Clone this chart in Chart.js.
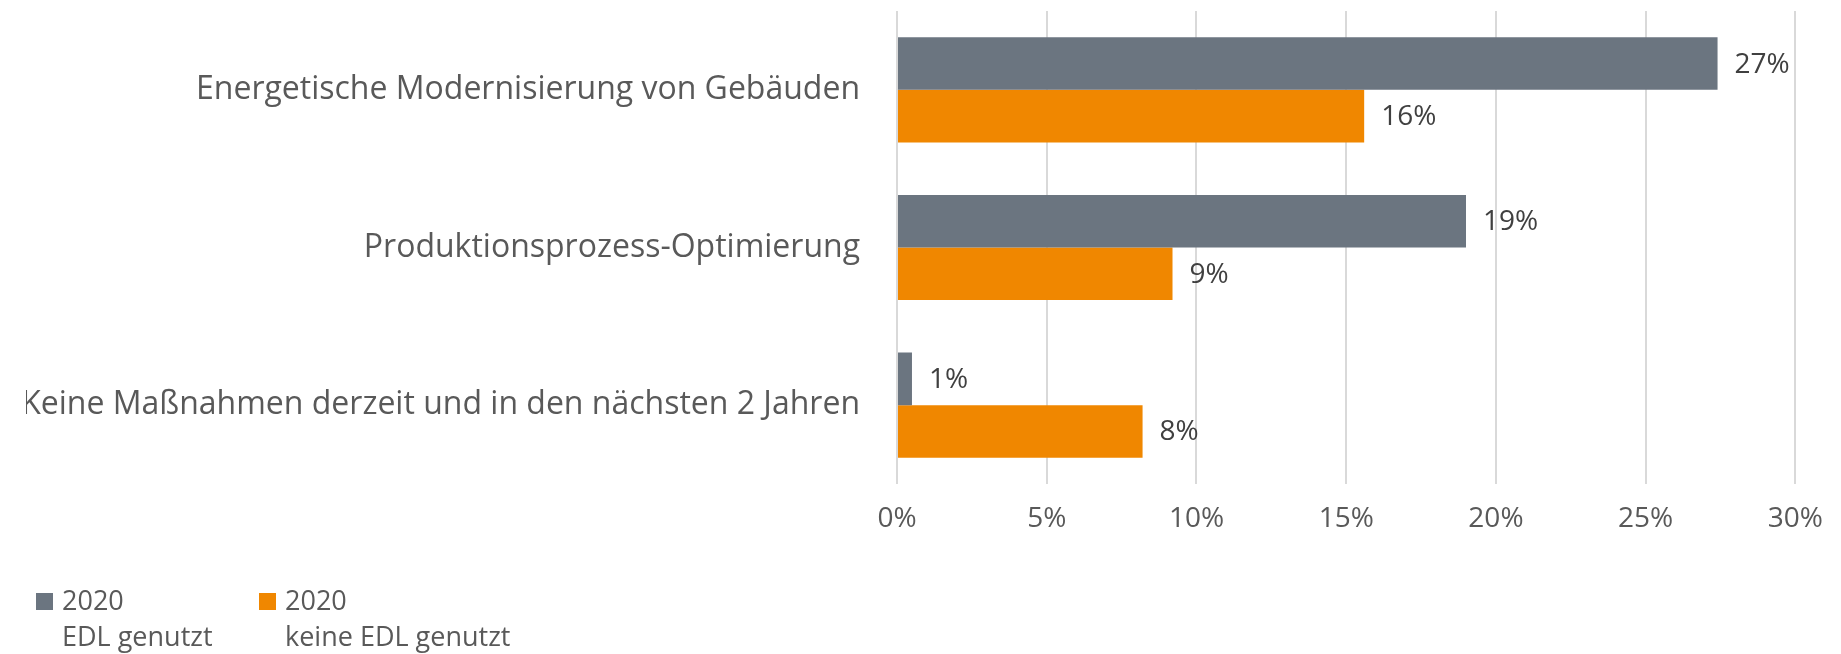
<!DOCTYPE html>
<html>
<head>
<meta charset="utf-8">
<script src="https://cdn.jsdelivr.net/npm/chart.js@4/dist/chart.umd.min.js"></script>
<style>
  html, body { margin: 0; padding: 0; background: #fff; }
  #wrap { width: 1841px; height: 654px; }
</style>
</head>
<body>
<div id="wrap"><canvas id="chart"></canvas></div>
<script>
const kategorien = [
    "Energetische Modernisierung von Gebäuden",
    "Produktionsprozess-Optimierung",
    "Keine Maßnahmen derzeit und in den nächsten 2 Jahren"
];
const edlGenutzt = [27.4, 19.0, 0.5];
const keineEdl = [15.6, 9.2, 8.2];
const serienNamen = [["2020", "EDL genutzt"], ["2020", "keine EDL genutzt"]];
const xTicks = [0, 5, 10, 15, 20, 25, 30];

const grau = "#6b7580";
const orange = "#f08700";
const schrift = "'Open Sans', sans-serif";

// Werte rechts neben die Balken schreiben
const wertLabels = {
    id: "wertLabels",
    afterDatasetsDraw(chart) {
        const ctx = chart.ctx;
        ctx.save();
        ctx.font = "28px " + schrift;
        ctx.fillStyle = "#404040";
        ctx.textAlign = "left";
        ctx.textBaseline = "middle";
        chart.data.datasets.forEach((ds, i) => {
            chart.getDatasetMeta(i).data.forEach((bar, j) => {
                ctx.fillText(Math.round(ds.data[j]) + "%", bar.x + 17, bar.y + 1);
            });
        });
        ctx.restore();
    }
};

// Legende unten links, zweizeilig
const legendeUnten = {
    id: "legendeUnten",
    afterDraw(chart) {
        const ctx = chart.ctx;
        const startX = [36, 259];
        ctx.save();
        ctx.font = "27px " + schrift;
        ctx.textAlign = "left";
        ctx.textBaseline = "middle";
        chart.data.datasets.forEach((ds, i) => {
            const x = startX[i];
            ctx.fillStyle = ds.backgroundColor;
            ctx.fillRect(x, 593, 17, 17);
            ctx.fillStyle = "#595959";
            ds.label.forEach((zeile, k) => {
                ctx.fillText(zeile, x + 26, 602 + k * 36);
            });
        });
        ctx.restore();
    }
};

new Chart(document.getElementById("chart"), {
    type: "bar",
    data: {
        labels: kategorien,
        datasets: [
            { label: serienNamen[0], data: edlGenutzt, backgroundColor: grau },
            { label: serienNamen[1], data: keineEdl, backgroundColor: orange }
        ]
    },
    options: {
        indexAxis: "y",
        responsive: true,
        maintainAspectRatio: false,
        animation: false,
        layout: { padding: { left: 26, right: 44, top: 11, bottom: 110 } },
        datasets: {
            bar: { categoryPercentage: 0.667, barPercentage: 1 }
        },
        scales: {
            x: {
                min: 0,
                max: 30,
                afterBuildTicks: s => { s.ticks = xTicks.map(v => ({ value: v })); },
                afterFit: s => { s.height = 60; },
                grid: { color: "#d9d9d9", lineWidth: 2, drawTicks: false },
                border: { display: false },
                ticks: {
                    padding: 18,
                    color: "#595959",
                    font: { family: schrift, size: 28 },
                    callback: v => v + "%"
                }
            },
            y: {
                afterFit: s => {
                    s.width = 871;
                    s.paddingTop = 0;
                    s.paddingBottom = 0;
                },
                grid: { display: false, drawTicks: false },
                border: { display: false },
                ticks: {
                    padding: 37,
                    color: "#595959",
                    font: { family: schrift, size: 32 }
                }
            }
        },
        plugins: {
            tooltip: { enabled: false },
            legend: { display: false }
        }
    },
    plugins: [wertLabels, legendeUnten]
});
</script>
</body>
</html>
